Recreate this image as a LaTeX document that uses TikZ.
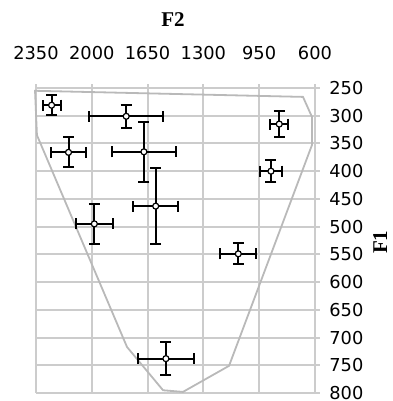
\documentclass[tikz,border=0pt]{standalone}
\usepackage{fontspec}
\setmainfont{DejaVu Sans}
\newfontfamily\titlefont{Liberation Serif}
\usetikzlibrary{arrows.meta}

\begin{document}
\begin{tikzpicture}[x={(-0.079715pt,0pt)}, y={(0pt,-0.2773pt)},
  gridline/.style={gray!40, line width=1pt},
  ticklabel/.style={font=\fontsize{8.9}{10}\selectfont, inner sep=0pt},
  axistitle/.style={font=\titlefont\bfseries\fontsize{10.5}{12}\selectfont, inner sep=0pt},
  errbar/.style={line width=1pt, {Bar[width=5.5pt]}-{Bar[width=5.5pt]}},
  vowel/.style={circle, draw, fill=white, line width=0.6pt, inner sep=0pt, minimum size=3pt}]
\useasboundingbox (2575.8,91.3) rectangle (110.8,814.4);
% grid and ticks
\foreach \ftwo in {2350,2000,1650,1300,950,600} {
  \draw[gridline] (\ftwo,243) -- (\ftwo,800);
  \node[ticklabel] at (\ftwo,187) {\ftwo};
}
\foreach \fone in {250,300,...,800} {
  \draw[gridline] (2350,\fone) -- (569,\fone);
  \node[ticklabel, anchor=west] at (512,\fone) {\fone};
}
\node[axistitle] (ftwo) at (1491,127) {F2};
\node[axistitle, rotate=90] (fone) at (190,528) {F1};
% vowel space
\draw[gray!55, line width=0.9pt] (2356,255) -- (675,266) -- (619,302) -- (619,353)
  -- (1139,751) -- (1428,798) -- (1553,795) -- (1779,717) -- (2344,335) -- cycle;
% means with error bars
\foreach \ftwo/\fone/\etwo/\eone in {2252/281/63/20, 1784/301/240/23, 2146/366/118/29,
  1673/365/207/56, 1599/463/146/70, 1984/495/124/38, 824/315/63/25, 876/400/77/22,
  1081/549/120/21, 1535/738/183/31} {
  \draw[errbar] (\ftwo-\etwo,\fone) -- (\ftwo+\etwo,\fone);
  \draw[errbar] (\ftwo,\fone-\eone) -- (\ftwo,\fone+\eone);
  \node[vowel] at (\ftwo,\fone) {};
}
\end{tikzpicture}
\end{document}
